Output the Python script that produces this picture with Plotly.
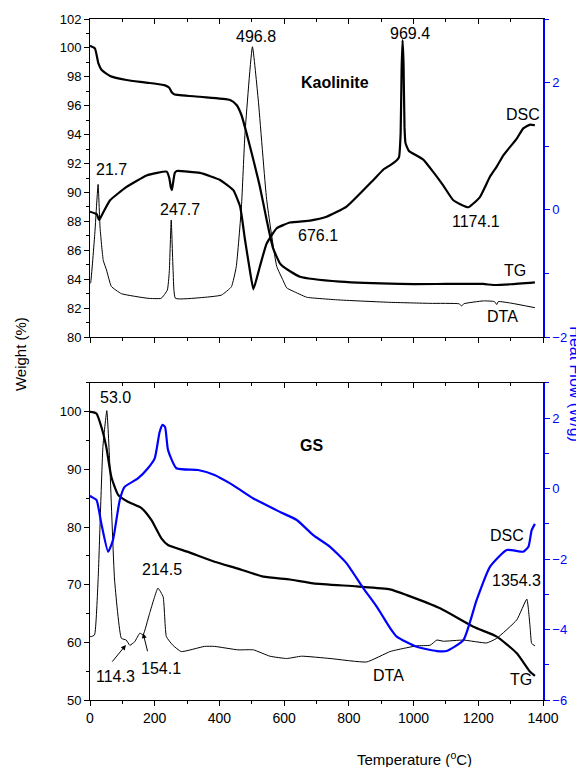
import plotly.graph_objects as go

# ---------------- Kaolinite (top panel) ----------------
kao_tg_t = [0, 15, 26, 36, 62, 113, 175, 232, 245, 252, 260, 340, 433, 453, 468, 484, 505, 525, 546, 566,
            587, 597, 649, 773, 958, 1100, 1215, 1246, 1300, 1375]
kao_tg_w = [100.15, 99.97, 98.93, 98.47, 98.06, 97.78, 97.6, 97.41, 97.25, 96.95, 96.8, 96.62, 96.4, 96.05, 95.36,
            94.09, 92.25, 90.4, 88.1, 86.13, 85.1, 84.87, 84.17, 83.83, 83.67, 83.67, 83.67, 83.6, 83.65, 83.78]

kao_dsc_t = [0, 21, 28, 40, 62, 113, 175, 237, 245, 250, 253, 256, 262, 268, 340, 402, 443, 464, 479, 494, 505,
             525, 546, 577, 618, 680, 731, 793, 876, 906, 927, 948, 955, 960, 963, 966, 969, 972, 975, 985, 1030,
             1060, 1092, 1123, 1169, 1205, 1236, 1257, 1278, 1319, 1339, 1360, 1375]
kao_dsc_v = [-0.03, -0.07, -0.16, -0.05, 0.15, 0.36, 0.54, 0.60, 0.5, 0.35, 0.31, 0.4, 0.58, 0.61, 0.58, 0.47,
             0.31, 0.05, -0.47, -0.95, -1.25, -0.89, -0.53, -0.29, -0.20, -0.17, -0.11, 0.05, 0.47, 0.63, 0.70,
             0.78, 0.83, 1.2, 2.2, 2.67, 2.3, 1.3, 1.05, 0.93, 0.79, 0.6, 0.38, 0.15, 0.04, 0.2, 0.52, 0.68, 0.86,
             1.12, 1.28, 1.34, 1.33]

kao_dta_t = [0, 2, 15, 25, 31, 41, 51, 66, 97, 179, 220, 239, 245, 251, 257, 264, 340, 406, 437, 452, 468, 479,
             502, 520, 546, 577, 597, 608, 649, 670, 773, 927, 1051, 1140, 1149, 1155, 1216, 1250, 1257, 1262,
             1300, 1375]
kao_dta_w = [83.7, 83.76, 87.2, 90.56, 87.6, 85.3, 84.64, 83.5, 83.0, 82.68, 82.68, 83.25, 84.5, 88.1, 84.5,
             82.68, 82.72, 82.9, 83.48, 84.86, 89.0, 94.09, 100.08, 96.4, 89.5, 84.9, 83.9, 83.4, 82.95, 82.75,
             82.56, 82.4, 82.33, 82.3, 82.15, 82.3, 82.5, 82.45, 82.25, 82.45, 82.35, 82.03]

# ---------------- GS (bottom panel) ----------------
gs_tg_t = [0, 4, 20, 35, 50, 66, 87, 117, 159, 190, 220, 241, 303, 385, 457, 536, 618, 690, 824, 927, 979, 1082,
           1185, 1257, 1319, 1360, 1375]
gs_tg_w = [100.0, 100.0, 99.7, 97.4, 94.0, 88.7, 85.6, 84.4, 83.3, 81.2, 78.1, 76.9, 75.7, 74.0, 72.8, 71.4, 70.9,
           70.25, 69.7, 69.2, 68.2, 65.9, 62.7, 61.0, 58.1, 54.9, 54.2]

gs_dsc_t = [0, 4, 20, 35, 56, 71, 92, 107, 148, 179, 200, 215, 224, 232, 241, 267, 334, 385, 433, 457, 505, 587,
            639, 690, 742, 793, 845, 886, 927, 948, 1010, 1072, 1102, 1154, 1195, 1236, 1288, 1339, 1355, 1365, 1375]
gs_dsc_v = [-0.2, -0.23, -0.32, -0.99, -1.79, -1.46, -0.32, 0.05, 0.29, 0.58, 0.86, 1.6, 1.81, 1.75, 1.10, 0.58,
            0.53, 0.39, 0.15, 0.01, -0.28, -0.66, -0.89, -1.32, -1.65, -2.12, -2.83, -3.35, -3.95, -4.2, -4.49,
            -4.61, -4.61, -4.30, -3.16, -2.22, -1.74, -1.79, -1.65, -1.18, -1.0]

gs_dta_t = [0, 4, 14, 25, 40, 52, 61, 76, 97, 112, 123, 138, 154, 164, 184, 210, 226, 236, 256, 282, 354, 385,
            457, 505, 556, 608, 654, 742, 855, 927, 948, 1010, 1051, 1072, 1092, 1154, 1226, 1257, 1319, 1350,
            1360, 1365, 1375]
gs_dta_w = [61.0, 61.0, 61.3, 70.8, 94.0, 100.2, 91.1, 70.8, 60.7, 60.4, 59.5, 60.1, 61.6, 61.3, 65.0, 69.4, 67.9,
            61.0, 59.5, 58.4, 59.3, 59.3, 58.7, 58.7, 57.6, 57.2, 57.6, 57.2, 56.6, 58.4, 58.7, 59.4, 59.5, 60.4,
            60.2, 60.4, 59.9, 60.7, 63.9, 67.5, 62.7, 59.8, 59.4]

# peak / curve labels (text, temperature, value)
kao_labels = [("21.7", 65, 91.6), ("247.7", 278, 88.85), ("496.8", 513, 100.8), ("969.4", 989, 101.0),
              ("DSC", 1338, 95.4), ("1174.1", 1193, 88.0), ("676.1", 705, 87.0), ("TG", 1313, 84.6),
              ("DTA", 1276, 81.45)]
gs_labels = [("53.0", 80, 102.4), ("214.5", 223, 72.6), ("114.3", 80, 54.0), ("154.1", 219, 55.55),
             ("DSC", 1289, 78.6), ("1354.3", 1317, 70.8), ("DTA", 921, 54.3), ("TG", 1332, 53.6)]
gs_arrows = [(111, 59.55, 65, 56.4), (164, 61.6, 179, 58.2)]

FONT = "Liberation Sans, Arial, sans-serif"
BLUE = "#0000ff"

fig = go.Figure()
fig.add_trace(go.Scatter(x=kao_tg_t, y=kao_tg_w, mode="lines", line=dict(color="black", width=2.2, shape="spline", smoothing=0.5), xaxis="x", yaxis="y"))
fig.add_trace(go.Scatter(x=kao_dta_t, y=kao_dta_w, mode="lines", line=dict(color="black", width=1, shape="spline", smoothing=0.4), xaxis="x", yaxis="y"))
fig.add_trace(go.Scatter(x=kao_dsc_t, y=kao_dsc_v, mode="lines", line=dict(color="black", width=2.2, shape="spline", smoothing=0.4), xaxis="x", yaxis="y2"))
fig.add_trace(go.Scatter(x=gs_tg_t, y=gs_tg_w, mode="lines", line=dict(color="black", width=2.2, shape="spline", smoothing=0.5), xaxis="x2", yaxis="y3"))
fig.add_trace(go.Scatter(x=gs_dta_t, y=gs_dta_w, mode="lines", line=dict(color="black", width=1, shape="spline", smoothing=0.4), xaxis="x2", yaxis="y3"))
fig.add_trace(go.Scatter(x=gs_dsc_t, y=gs_dsc_v, mode="lines", line=dict(color=BLUE, width=2.2, shape="spline", smoothing=0.5), xaxis="x2", yaxis="y4"))
# dummy traces so the top-edge tick axes get drawn
fig.add_trace(go.Scatter(x=[None], y=[None], xaxis="x3", yaxis="y", showlegend=False))
fig.add_trace(go.Scatter(x=[None], y=[None], xaxis="x4", yaxis="y3", showlegend=False))

tickfont = dict(family=FONT, size=13, color="black")
common_x = dict(range=[0, 1400], dtick=200, tick0=0, showgrid=False, zeroline=False, showline=True,
                linecolor="black", linewidth=1, ticks="outside", ticklen=5, tickcolor="black",
                minor=dict(ticks="outside", ticklen=3, dtick=100, tick0=0, tickcolor="black"))
top_x = dict(range=[0, 1400], dtick=200, tick0=0, showgrid=False, zeroline=False, showline=True,
             linecolor="black", linewidth=1, ticks="inside", ticklen=5, tickcolor="black", side="top",
             showticklabels=False, minor=dict(ticks="inside", ticklen=3, dtick=100, tick0=0, tickcolor="black"))
left_y = dict(showgrid=False, zeroline=False, showline=True, linecolor="black", linewidth=1, ticks="outside",
              ticklen=5, tickcolor="black", tickfont=tickfont)
right_y = dict(showgrid=False, zeroline=False, showline=True, linecolor=BLUE, linewidth=1.5, ticks="outside",
               ticklen=5, tickcolor=BLUE, side="right", tickfont=dict(family=FONT, size=13, color=BLUE),
               minor=dict(ticks="outside", ticklen=4, dtick=1, tickcolor=BLUE))

# page body adds an 8px offset, so the figure is sized/margined to compensate
fig.update_layout(
    width=576, height=759, margin=dict(l=82, r=41, t=11, b=67, autoexpand=False),
    paper_bgcolor="white", plot_bgcolor="white", showlegend=False,
    font=dict(family=FONT, color="black"),
    xaxis=dict(common_x, domain=[0, 1], anchor="y", showticklabels=False),
    xaxis3=dict(top_x, overlaying="x", anchor="y"),
    yaxis=dict(left_y, domain=[0.533, 1], range=[80, 102], dtick=2, tick0=80, anchor="x",
               minor=dict(ticks="outside", ticklen=3, dtick=1, tickcolor="black")),
    yaxis2=dict(right_y, overlaying="y", anchor="x", range=[-2, 3], dtick=2, tick0=0),
    xaxis2=dict(common_x, domain=[0, 1], anchor="y3", tickfont=dict(family=FONT, size=14, color="black")),
    xaxis4=dict(top_x, overlaying="x2", anchor="y3"),
    yaxis3=dict(left_y, domain=[0, 0.4655], range=[50, 105], dtick=10, tick0=50, anchor="x2",
                minor=dict(ticks="outside", ticklen=3, dtick=5, tickcolor="black")),
    yaxis4=dict(right_y, overlaying="y3", anchor="x2", range=[-6, 3], dtick=2, tick0=0),
)

lab_font = dict(family=FONT, size=16, color="black")
for txt, t, w in kao_labels:
    fig.add_annotation(x=t, y=w, xref="x", yref="y", text=txt, showarrow=False, font=lab_font,
                       xanchor="center", yanchor="middle")
for txt, t, w in gs_labels:
    fig.add_annotation(x=t, y=w, xref="x2", yref="y3", text=txt, showarrow=False, font=lab_font,
                       xanchor="center", yanchor="middle")
fig.add_annotation(x=757, y=97.6, xref="x", yref="y", text="<b>Kaolinite</b>", showarrow=False, font=lab_font,
                   xanchor="center", yanchor="middle")
fig.add_annotation(x=683, y=94.1, xref="x2", yref="y3", text="<b>GS</b>", showarrow=False, font=lab_font,
                   xanchor="center", yanchor="middle")
for t1, w1, t0, w0 in gs_arrows:
    fig.add_annotation(x=t1, y=w1, xref="x2", yref="y3", ax=t0, ay=w0, axref="x2", ayref="y3", text="",
                       showarrow=True, arrowhead=2, arrowsize=1, arrowwidth=1, arrowcolor="black")

# axis titles
fig.add_annotation(x=-0.1545, y=0.508, xref="paper", yref="paper", text="Weight (%)", textangle=-90,
                   showarrow=False, font=dict(family=FONT, size=15, color="black"),
                   xanchor="center", yanchor="middle")
fig.add_annotation(x=1.071, y=0.4633, xref="paper", yref="paper", text="Heat Flow (W/g)", textangle=90,
                   showarrow=False, font=dict(family=FONT, size=16, color=BLUE),
                   xanchor="center", yanchor="middle")
fig.add_annotation(x=0.7174, y=-0.0852, xref="paper", yref="paper", text="Temperature (<sup>o</sup>C)",
                   showarrow=False, font=dict(family=FONT, size=15, color="black"),
                   xanchor="center", yanchor="middle")

fig.write_html("out.html")
